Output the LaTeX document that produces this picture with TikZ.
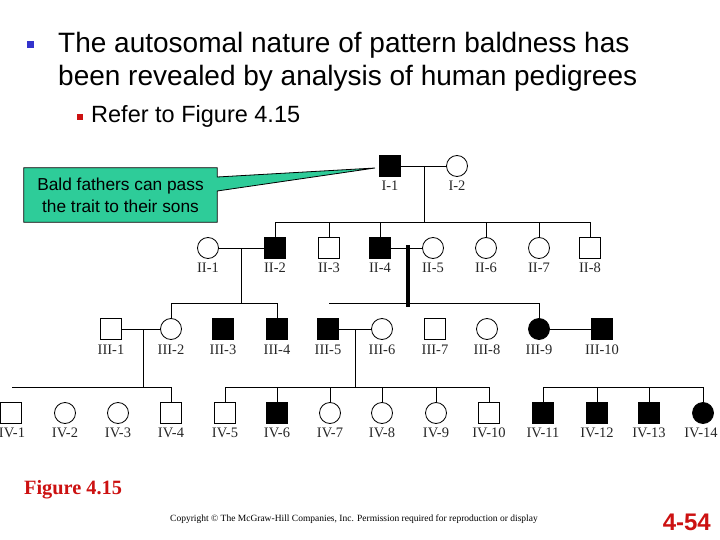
\documentclass[tikz,border=0pt]{standalone}
\usepackage{fontspec}
\setmainfont{Liberation Serif}
\setsansfont{Liberation Sans}
\usetikzlibrary{backgrounds}
\definecolor{callgreen}{RGB}{46,204,153}
\definecolor{bulletblue}{RGB}{51,51,204}
\definecolor{slidered}{RGB}{204,17,17}
\tikzset{
  x=1pt, y=-1pt,
  indiv/.style={draw=black, line width=0.8pt, minimum size=21pt, inner sep=0pt, outer sep=0pt},
  male/.style={indiv, rectangle},
  female/.style={indiv, circle},
  affected/.style={fill=black},
  lbl/.style={font=\fontsize{14.5}{15}\selectfont\rmfamily, text=black!85, inner sep=0pt},
  link/.style={draw=black, line width=0.8pt},
  thick link/.style={draw=black, line width=3.2pt},
  callbox/.style={rectangle, minimum width=193pt, minimum height=54pt, inner sep=0pt, align=center,
     font=\fontsize{17.3}{22}\selectfont\sffamily},
  titletext/.style={anchor=west, inner sep=0pt, font=\fontsize{28}{33}\selectfont\sffamily},
  subtext/.style={anchor=west, inner sep=0pt, font=\fontsize{23.5}{28}\selectfont\sffamily},
}
\begin{document}
\begin{tikzpicture}
\useasboundingbox (0,0) rectangle (720,540);

% ---- title ----
\node[fill=bulletblue, minimum size=7pt, inner sep=0pt] (b1) at (30,45) {};
\node[titletext] (t1) at (58,45) {The autosomal nature of pattern baldness has};
\node[titletext] (t2) at (58,78) {been revealed by analysis of human pedigrees};
\node[fill=slidered, minimum size=6pt, inner sep=0pt] (b2) at (80,117) {};
\node[subtext] (t3) at (91,116) {Refer to Figure 4.15};

% ---- generation I ----
\node[male, affected] (I1) at (390,166) {};
\node[female] (I2) at (457,166) {};
\node[lbl] at (390,186) {I-1};
\node[lbl] at (457,186) {I-2};

% ---- generation II ----
\node[female] (II1) at (208,248) {};
\node[male, affected] (II2) at (275,248) {};
\node[male] (II3) at (329,248) {};
\node[male, affected] (II4) at (380,248) {};
\node[female] (II5) at (433,248) {};
\node[female] (II6) at (486,248) {};
\node[female] (II7) at (539,248) {};
\node[male] (II8) at (590,248) {};
\foreach \x/\t in {208/II-1, 275/II-2, 329/II-3, 380/II-4, 433/II-5, 486/II-6, 539/II-7, 590/II-8}
  \node[lbl] at (\x,268) {\t};

% ---- generation III ----
\node[male] (III1) at (111,329) {};
\node[female] (III2) at (171,329) {};
\node[male, affected] (III3) at (223,329) {};
\node[male, affected] (III4) at (277,329) {};
\node[male, affected] (III5) at (328,329) {};
\node[female] (III6) at (382,329) {};
\node[male] (III7) at (435,329) {};
\node[female] (III8) at (487,329) {};
\node[female, affected] (III9) at (539,329) {};
\node[male, affected] (III10) at (602,329) {};
\foreach \x/\t in {111/III-1, 171/III-2, 223/III-3, 277/III-4, 328/III-5, 382/III-6, 435/III-7, 487/III-8, 539/III-9, 602/III-10}
  \node[lbl] at (\x,350) {\t};

% ---- generation IV ----
\node[male] (IV1) at (11,413) {};
\node[female] (IV2) at (65,413) {};
\node[female] (IV3) at (118,413) {};
\node[male] (IV4) at (171,413) {};
\node[male] (IV5) at (225,413) {};
\node[male, affected] (IV6) at (277,413) {};
\node[female] (IV7) at (330,413) {};
\node[female] (IV8) at (382,413) {};
\node[female] (IV9) at (436,413) {};
\node[male] (IV10) at (489,413) {};
\node[male, affected] (IV11) at (543,413) {};
\node[male, affected] (IV12) at (597,413) {};
\node[male, affected] (IV13) at (649,413) {};
\node[female, affected] (IV14) at (703,413) {};
\foreach \x/\t in {12/IV-1, 65/IV-2, 118/IV-3, 171/IV-4, 225/IV-5, 277/IV-6, 330/IV-7, 382/IV-8, 436/IV-9, 489/IV-10, 543/IV-11, 597/IV-12, 649/IV-13, 701/IV-14}
  \node[lbl] at (\x,433) {\t};

% ---- junction coordinates ----
\coordinate (m1) at (424,166);
\coordinate (s1) at (424,222);
\coordinate (s1L) at (275,222);
\coordinate (s1R) at (590,222);
\coordinate (m21) at (241,248);
\coordinate (s21) at (241,303);
\coordinate (s21L) at (171,303);
\coordinate (s21R) at (277,303);
\coordinate (m22) at (408,245);
\coordinate (s22) at (408,307);
\coordinate (s22L) at (329,303);
\coordinate (s22R) at (539,303);
\coordinate (m31) at (143,329);
\coordinate (s31) at (143,387);
\coordinate (s31L) at (12,387);
\coordinate (s31R) at (171,387);
\coordinate (m32) at (355,329);
\coordinate (s32) at (355,387);
\coordinate (s32L) at (225,387);
\coordinate (s32R) at (489,387);
\coordinate (s33L) at (543,387);
\coordinate (s33R) at (703,387);

% ---- connectors ----
\draw[link] (I1) -- (I2);
\draw[link] (m1) -- (s1);
\draw[link] (s1L) -- (s1R);
\foreach \c in {II2, II3, II4, II6, II7, II8}
  \draw[link] (\c) -- (\c |- s1L);

\draw[link] (II1) -- (II2);
\draw[link] (m21) -- (s21);
\draw[link] (s21L) -- (s21R);
\foreach \c in {III2, III4}
  \draw[link] (\c) -- (\c |- s21L);

\draw[link] (II4) -- (II5);
\draw[link] (s22L) -- (s22R);
\draw[link] (III9) -- (III9 |- s22L);
\draw[thick link] (m22) -- (s22);

\draw[link] (III1) -- (III2);
\draw[link] (m31) -- (s31);
\draw[link] (s31L) -- (s31R);
\draw[link] (IV4) -- (IV4 |- s31L);

\draw[link] (III5) -- (III6);
\draw[link] (m32) -- (s32);
\draw[link] (s32L) -- (s32R);
\foreach \c in {IV5, IV6, IV7, IV8, IV9, IV10}
  \draw[link] (\c) -- (\c |- s32L);

\draw[link] (III9) -- (III10);
\draw[link] (s33L) -- (s33R);
\foreach \c in {IV11, IV12, IV13, IV14}
  \draw[link] (\c) -- (\c |- s33L);

% ---- callout ----
\node[callbox] (call) at (120.5,195) {Bald fathers can pass\\the trait to their sons};
\coordinate (tip) at (375,168);
\coordinate (wa) at (217,177);
\coordinate (wb) at (217,191);
\begin{scope}[on background layer]
\filldraw[fill=callgreen, draw=black, line width=0.8pt]
  (call.north west) -- (call.north east) -- (call.east |- wa) -- (tip)
  -- (call.east |- wb) -- (call.south east) -- (call.south west) -- cycle;
\end{scope}

% ---- footer ----
\node[anchor=west, inner sep=0pt, text=slidered, font=\fontsize{20.3}{22}\selectfont\rmfamily\bfseries] (fig) at (24,490) {Figure 4.15};
\node[inner sep=0pt, font=\fontsize{9.5}{11}\selectfont\rmfamily] (copy) at (354,519) {Copyright © The McGraw-Hill Companies, Inc. Permission required for reproduction or display};
\node[anchor=east, inner sep=0pt, text=slidered, font=\fontsize{24}{26}\selectfont\sffamily\bfseries] (pg) at (711,522) {4-54};
\end{tikzpicture}
\end{document}
